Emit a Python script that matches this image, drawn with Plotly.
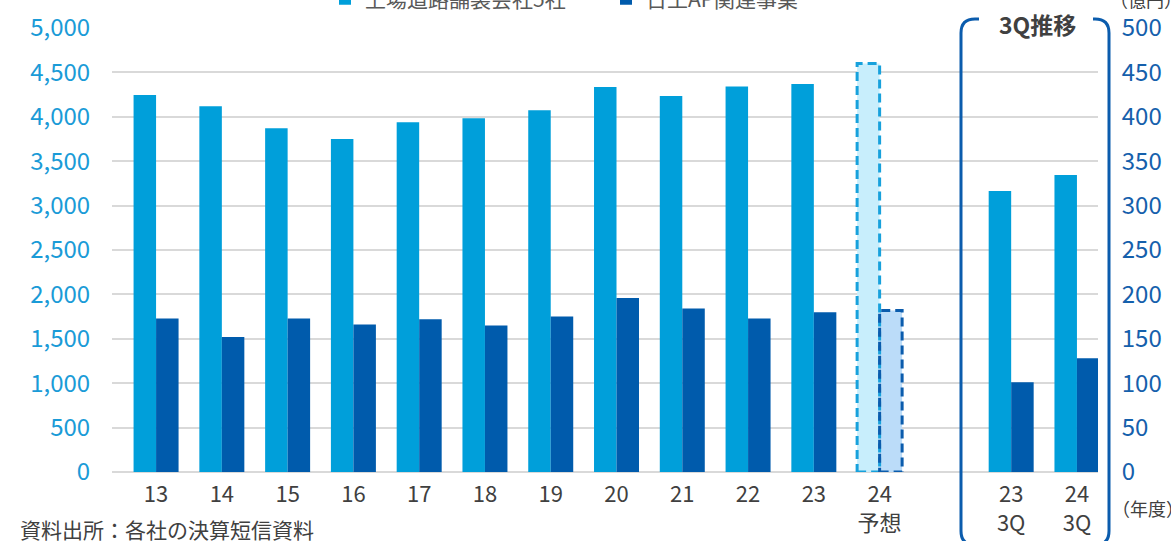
import plotly.graph_objects as go

# ---- data -------------------------------------------------------------
years = ["13", "14", "15", "16", "17", "18", "19", "20", "21", "22", "23"]
paving_sales = [4245, 4120, 3870, 3750, 3940, 3985, 4075, 4335, 4235, 4340, 4370]   # 億円, left axis
nikko_sales = [173, 152, 173, 166, 172, 165, 175, 196, 184, 173, 180]               # 億円, right axis

forecast_label = "24<br>予想"
paving_forecast = 4600
nikko_forecast = 182

q3_labels = ["23<br>3Q", "24<br>3Q"]
paving_q3 = [3165, 3345]
nikko_q3 = [101, 128]

spacer = " "
categories = years + [forecast_label, spacer] + q3_labels

series_names = ["上場道路舗装会社5社", "日工AP関連事業"]

# ---- style ------------------------------------------------------------
LIGHT = "#009FDA"
DARK = "#005BAC"
LIGHT_FC_FILL = "#C8EEFC"
LIGHT_FC_LINE = "#17A1DC"
DARK_FC_FILL = "#BBDCF9"
DARK_FC_LINE = "#0B5CAD"
TEXT = "#404040"
GRID = "#D9D9D9"
FONT = "Noto Sans CJK JP"

W, H = 1171, 541
ML, MR, MT, MB = 112, 73, 28, 69
PW, PH = W - ML - MR, H - MT - MB
BAR_W = 0.342


def px_to_paper(px, py):
    """Convert page pixel position to paper coordinates."""
    return (px - ML) / PW, (H - MB - py) / PH


fig = go.Figure()

fig.add_trace(go.Bar(
    name=series_names[0], x=years + q3_labels, y=paving_sales + paving_q3,
    marker=dict(color=LIGHT, line=dict(width=0)),
    width=BAR_W, offset=-BAR_W, yaxis="y",
))
fig.add_trace(go.Bar(
    name=series_names[1], x=years + q3_labels, y=nikko_sales + nikko_q3,
    marker=dict(color=DARK, line=dict(width=0)),
    width=BAR_W, offset=0, yaxis="y2",
))

# forecast bars (pale fill, dashed outline added as shapes below)
fig.add_trace(go.Bar(
    x=[forecast_label], y=[paving_forecast], showlegend=False,
    marker=dict(color=LIGHT_FC_FILL, line=dict(width=0)),
    width=BAR_W, offset=-BAR_W, yaxis="y",
))
fig.add_trace(go.Bar(
    x=[forecast_label], y=[nikko_forecast], showlegend=False,
    marker=dict(color=DARK_FC_FILL, line=dict(width=0)),
    width=BAR_W, offset=0, yaxis="y2",
))

fc_idx = categories.index(forecast_label)
shapes = [
    dict(type="rect", xref="x", yref="y",
         x0=fc_idx - BAR_W, x1=fc_idx, y0=0, y1=paving_forecast,
         line=dict(color=LIGHT_FC_LINE, width=3, dash="9px,5px"), layer="above"),
    dict(type="rect", xref="x", yref="y2",
         x0=fc_idx, x1=fc_idx + BAR_W, y0=0, y1=nikko_forecast,
         line=dict(color=DARK_FC_LINE, width=3, dash="9px,5px"), layer="above"),
]

# rounded frame around the 3Q section, open at the top for its title
L, R, T, B, r = 961, 1109, 19, 545, 14
gap_l, gap_r = 979, 1093
pts = [
    ("M", [(gap_l, T)]),
    ("L", [(L + r, T)]),
    ("Q", [(L, T), (L, T + r)]),
    ("L", [(L, B - r)]),
    ("Q", [(L, B), (L + r, B)]),
    ("L", [(R - r, B)]),
    ("Q", [(R, B), (R, B - r)]),
    ("L", [(R, T + r)]),
    ("Q", [(R, T), (R - r, T)]),
    ("L", [(gap_r, T)]),
]
path = ""
for cmd, coords in pts:
    path += cmd + " " + " ".join("%.5f,%.5f" % px_to_paper(x, y) for x, y in coords) + " "
shapes.append(dict(type="path", xref="paper", yref="paper", path=path.strip(),
                   line=dict(color=DARK_FC_LINE, width=3), layer="above"))

annotations = []


def add_text(text, px, py, size, color=TEXT, xanchor="left", bold=False):
    x, y = px_to_paper(px, py)
    annotations.append(dict(
        text=f"<b>{text}</b>" if bold else text, x=x, y=y, xref="paper", yref="paper",
        xanchor=xanchor, yanchor="middle", showarrow=False,
        font=dict(family=FONT, size=size, color=color),
    ))


add_text("3Q推移", 1037, 24, 23, xanchor="center", bold=True)
add_text("（億円）", 1108, -1, 18)
add_text("（年度）", 1110, 508, 18)
add_text("資料出所：各社の決算短信資料", 18, 529, 21)

fig.update_layout(
    width=W, height=H,
    margin=dict(l=ML, r=MR, t=MT, b=MB, autoexpand=False),
    paper_bgcolor="white", plot_bgcolor="white",
    font=dict(family=FONT, color=TEXT),
    barmode="overlay",
    showlegend=True,
    legend=dict(orientation="h", x=px_to_paper(325, 0)[0], y=px_to_paper(0, -1)[1],
                xanchor="left", yanchor="middle",
                font=dict(family=FONT, size=21, color="#595959"),
                entrywidth=236, itemwidth=30, bgcolor="rgba(0,0,0,0)"),
    xaxis=dict(type="category", categoryorder="array", categoryarray=categories,
               range=[-0.67, 14.32], showgrid=False, showline=False, zeroline=False,
               ticks="outside", ticklen=3, tickcolor="rgba(0,0,0,0)",
               tickfont=dict(family=FONT, size=22, color=TEXT)),
    yaxis=dict(range=[0, 5000], dtick=500, tickformat=",", showgrid=True,
               gridcolor=GRID, gridwidth=2, zeroline=True, zerolinecolor=GRID,
               zerolinewidth=2, showline=False,
               ticks="outside", ticklen=16, tickcolor="rgba(0,0,0,0)",
               tickfont=dict(family=FONT, size=24, color="#1A9BD7")),
    yaxis2=dict(range=[0, 500], dtick=50, overlaying="y", side="right",
                showgrid=False, zeroline=False, showline=False,
                ticks="outside", ticklen=18, tickcolor="rgba(0,0,0,0)",
                tickfont=dict(family=FONT, size=24, color="#1560AC")),
    shapes=shapes,
    annotations=annotations,
)

fig.write_html("out.html")
